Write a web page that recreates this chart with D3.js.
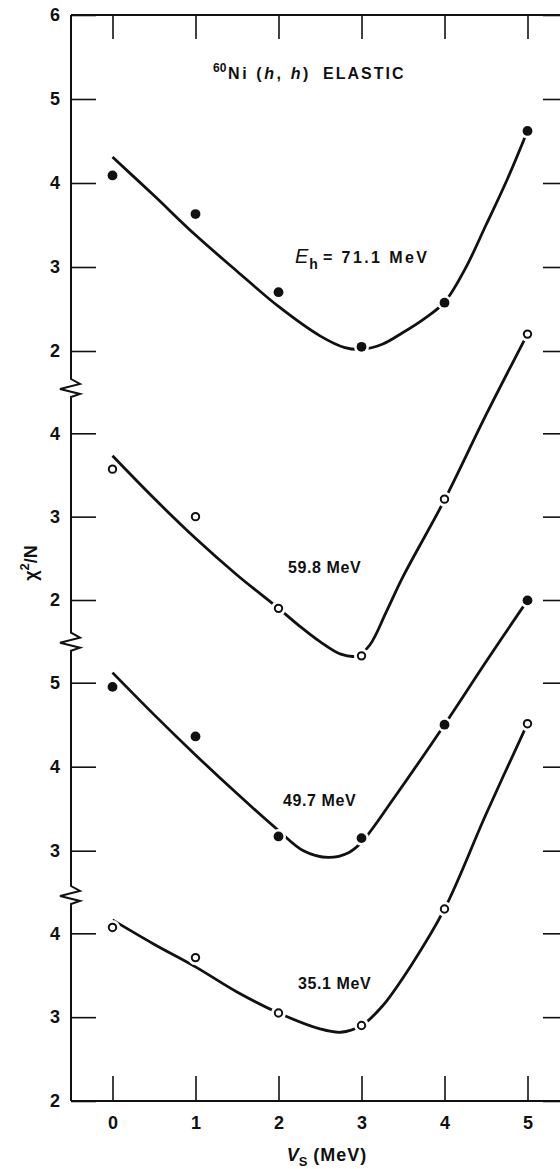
<!DOCTYPE html>
<html><head><meta charset="utf-8">
<script src="https://cdn.jsdelivr.net/npm/d3@7"></script>
<style>
body{margin:0;background:#fff}
svg{display:block}
text{font-family:"Liberation Sans",Arial,sans-serif;fill:#111}
</style>
</head><body><div id="chart"></div>
<script>
// ---- data ----
const vsValues = [0, 1, 2, 3, 4, 5];
const xTickLabels = ["0", "1", "2", "3", "4", "5"];
const energyLabels = ["71.1 MeV", "59.8 MeV", "49.7 MeV", "35.1 MeV"];

const chi71 = [4.09, 3.63, 2.70, 2.05, 2.575, 4.62];
const chi598 = [3.57, 3.00, 1.90, 1.33, 3.21, 5.19];
const chi497 = [4.95, 4.36, 3.17, 3.15, 4.50, 5.98];
const chi351 = [4.07, 3.71, 3.05, 2.90, 4.29, 6.50];

const fit71 = [[0,4.31],[0.5,3.85],[1,3.38],[1.5,2.95],[2,2.53],[2.5,2.18],[2.8,2.04],[3,2.02],[3.25,2.08],[3.5,2.22],[3.75,2.38],[4,2.58],[4.25,2.98],[4.5,3.5],[4.75,4.03],[5,4.62]];
const fit598 = [[0,3.73],[0.5,3.22],[1,2.74],[1.5,2.3],[2,1.9],[2.25,1.69],[2.5,1.5],[2.75,1.35],[2.95,1.33],[3.1,1.46],[3.3,1.86],[3.5,2.28],[4,3.2],[4.5,4.22],[5,5.19]];
const fit497 = [[0,5.12],[0.5,4.62],[1,4.14],[1.5,3.68],[2,3.24],[2.3,3.0],[2.6,2.92],[2.85,2.98],[3,3.1],[3.4,3.64],[4,4.5],[4.5,5.25],[5,5.98]];
const fit351 = [[0,4.16],[0.5,3.87],[1,3.6],[1.5,3.3],[2,3.05],[2.5,2.86],[2.75,2.82],[3,2.9],[3.25,3.13],[3.6,3.62],[4,4.29],[4.5,5.42],[5,6.5]];

const yTicksA = [2, 3, 4, 5, 6];
const yTicksB = [2, 3, 4];
const yTicksC = [3, 4, 5];
const yTicksD = [2, 3, 4];

// ---- layout ----
const W = 560, H = 1169;
const L = 71, R = 569, T = 15, B = 1101;
const svg = d3.select("#chart").append("svg").attr("width", W).attr("height", H);
svg.append("rect").attr("width", W).attr("height", H).attr("fill", "#fff");

const x = d3.scaleLinear().domain([-0.5, 5.5]).range([L, R]);

const panels = [
  {pts: chi71, fit: fit71, filled: true, ticks: yTicksA, y: d3.scaleLinear().domain([2, 6]).range([351, 15])},
  {pts: chi598, fit: fit598, filled: false, ticks: yTicksB, y: d3.scaleLinear().domain([2, 4]).range([600, 433.3])},
  {pts: chi497, fit: fit497, filled: true, ticks: yTicksC, y: d3.scaleLinear().domain([3, 5]).range([850.7, 682.7])},
  {pts: chi351, fit: fit351, filled: false, ticks: yTicksD, y: d3.scaleLinear().domain([2, 4]).range([1101, 933.3])}
];

const ink = "#111";
const fontFam = '"Liberation Sans", Arial, sans-serif';

function styleAxis(g, size) {
  g.select(".domain").remove();
  g.attr("font-family", fontFam).attr("font-size", size || 18).attr("font-weight", "bold");
  g.selectAll(".tick line").attr("stroke", ink).attr("stroke-width", 1.6);
  g.selectAll(".tick text").attr("fill", ink);
}

// frame
const frame = svg.append("g").attr("stroke", ink).attr("stroke-width", 2).attr("fill", "none");
frame.append("line").attr("x1", L).attr("x2", R).attr("y1", T).attr("y2", T);
frame.append("line").attr("x1", L).attr("x2", R).attr("y1", B).attr("y2", B);
frame.append("line").attr("x1", L).attr("x2", L).attr("y1", T).attr("y2", B);
frame.append("line").attr("x1", R).attr("x2", R).attr("y1", T).attr("y2", B);

// y axes per panel
panels.forEach(p => {
  svg.append("g").attr("transform", `translate(${L},0)`)
    .call(d3.axisLeft(p.y).tickValues(p.ticks).tickSizeInner(-25).tickSizeOuter(0).tickPadding(11).tickFormat(d3.format("d")))
    .call(g => styleAxis(g, 18));
  svg.append("g").attr("transform", `translate(${R},0)`)
    .call(d3.axisRight(p.y).tickValues(p.ticks).tickSizeInner(-26).tickSizeOuter(0).tickFormat(""))
    .call(g => styleAxis(g));
});

// x axes
svg.append("g").attr("transform", `translate(0,${T})`)
  .call(d3.axisTop(x).tickValues(vsValues).tickSizeInner(-24).tickSizeOuter(0).tickFormat(""))
  .call(g => styleAxis(g));
svg.append("g").attr("transform", `translate(0,${B})`)
  .call(d3.axisBottom(x).tickValues(vsValues).tickSizeInner(-25).tickSizeOuter(0).tickPadding(15).tickFormat((d, i) => xTickLabels[i]))
  .call(g => styleAxis(g, 18));

// axis breaks
[388, 641.7, 895].forEach(yc => {
  svg.append("rect").attr("x", L - 3).attr("y", yc - 10).attr("width", 6).attr("height", 20).attr("fill", "#fff");
  svg.append("path")
    .attr("d", `M${L},${yc - 11} L${L},${yc - 9} L${L + 9},${yc - 4} L${L - 11},${yc + 1} L${L + 9},${yc + 6} L${L},${yc + 9} L${L},${yc + 11}`)
    .attr("fill", "none").attr("stroke", ink).attr("stroke-width", 2).attr("stroke-linejoin", "miter");
});

// curves and points
panels.forEach(p => {
  const line = d3.line().x(d => x(d[0])).y(d => p.y(d[1])).curve(d3.curveCatmullRom.alpha(0.5));
  svg.append("path").datum(p.fit).attr("d", line)
    .attr("fill", "none").attr("stroke", ink).attr("stroke-width", 2.8).attr("stroke-linecap", "butt");
});
panels.forEach(p => {
  const g = svg.append("g");
  const data = vsValues.map((v, i) => [v, p.pts[i]]);
  g.selectAll("circle.halo").data(data).join("circle").attr("class", "halo")
    .attr("cx", d => x(d[0])).attr("cy", d => p.y(d[1])).attr("r", 7.5).attr("fill", "#fff");
  if (p.filled) {
    g.selectAll("circle.pt").data(data).join("circle").attr("class", "pt")
      .attr("cx", d => x(d[0])).attr("cy", d => p.y(d[1])).attr("r", 4.9).attr("fill", ink);
  } else {
    g.selectAll("circle.pt").data(data).join("circle").attr("class", "pt")
      .attr("cx", d => x(d[0])).attr("cy", d => p.y(d[1])).attr("r", 3.7)
      .attr("fill", "#fff").attr("stroke", ink).attr("stroke-width", 2);
  }
});

// title
svg.append("text").attr("x", 213).attr("y", 72).attr("font-size", 12).attr("font-weight", "bold").text("60");
const title = svg.append("text").attr("x", 228).attr("y", 79).attr("font-size", 16).attr("font-weight", "bold").attr("letter-spacing", 2.6);
title.append("tspan").text("Ni (");
title.append("tspan").attr("font-style", "italic").text("h");
title.append("tspan").text(", ");
title.append("tspan").attr("font-style", "italic").text("h");
title.append("tspan").text(")");
svg.append("text").attr("x", 323).attr("y", 79).attr("font-size", 16).attr("font-weight", "bold")
  .attr("letter-spacing", 2).text("ELASTIC");

// energy labels
const eLab = svg.append("text").attr("x", 295).attr("y", 263).attr("font-weight", "bold");
eLab.append("tspan").attr("font-style", "italic").attr("font-size", 20).attr("font-weight", "normal").text("E");
eLab.append("tspan").attr("font-size", 14).attr("dy", 6).attr("dx", 1).text("h");
svg.append("text").attr("x", 323).attr("y", 263).attr("font-size", 16).attr("font-weight", "bold")
  .attr("letter-spacing", 2.4).text("= " + energyLabels[0]);

const labelPos = [null, [288, 573], [283, 806], [298, 989]];
[1, 2, 3].forEach(i => {
  svg.append("text").attr("x", labelPos[i][0]).attr("y", labelPos[i][1])
    .attr("font-size", 16).attr("font-weight", "bold").attr("letter-spacing", 0.6).text(energyLabels[i]);
});

// y label
const yl = svg.append("text").attr("transform", "translate(37,563) rotate(-90)")
  .attr("text-anchor", "middle").attr("font-size", 18).attr("font-weight", "bold");
yl.append("tspan").text("χ");
yl.append("tspan").attr("font-size", 13).attr("dy", -8).text("2");
yl.append("tspan").attr("dy", 8).text("/N");

// x label
const xl = svg.append("text").attr("x", 327).attr("y", 1161).attr("text-anchor", "middle")
  .attr("font-size", 18).attr("font-weight", "bold");
xl.append("tspan").attr("font-style", "italic").text("V");
xl.append("tspan").attr("font-size", 13).attr("dy", 5).text("S");
xl.append("tspan").attr("dy", -5).attr("dx", 6).attr("letter-spacing", 1).text("(MeV)");
</script>
</body></html>
